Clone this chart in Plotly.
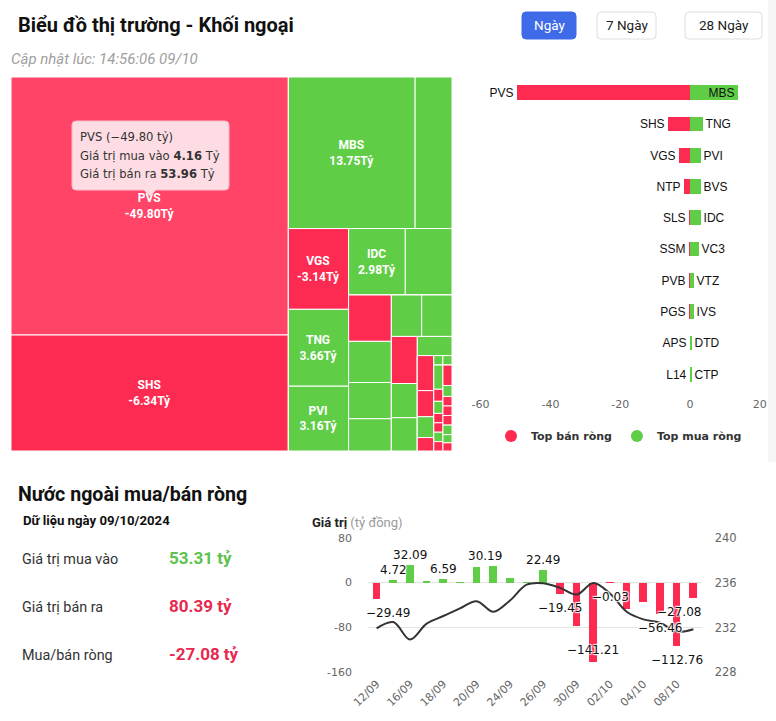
import plotly.graph_objects as go

W, H = 776, 721

# ---------------- DATA ----------------
# Treemap: sizes = total traded value (tỷ); hierarchy groups give the block layout
tm_ids = ["root", "L", "PVS", "SHS", "R", "R_top", "MBS", "g1", "R_bot", "colA", "VGS", "TNG", "PVI",
          "restA", "row1", "IDC", "g2", "rest2", "colB", "b1", "b2", "b3", "b4", "colC", "topC", "c1", "c2",
          "restC", "C1", "c3", "c4", "c5", "C2", "c6", "C2rest", "C2a", "c7", "c8", "c9", "c10",
          "C2b", "pair", "d1", "d2", "cols", "col1", "e1", "e2", "e3", "e4", "e5", "e6", "e7",
          "col2", "f1", "f2", "f3", "f4", "f5", "f6", "f7", "f8"]
tm_parents = ["", "root", "L", "L", "root", "R", "R_top", "R_top", "R", "R_bot", "colA", "colA", "colA",
              "R_bot", "restA", "row1", "row1", "restA", "rest2", "colB", "colB", "colB", "colB", "rest2", "colC", "topC", "topC",
              "colC", "restC", "C1", "C1", "C1", "restC", "C2", "C2", "C2rest", "C2a", "C2a", "C2a", "C2a",
              "C2rest", "C2b", "pair", "pair", "C2b", "cols", "col1", "col1", "col1", "col1", "col1", "col1", "col1",
              "cols", "col2", "col2", "col2", "col2", "col2", "col2", "col2", "col2"]
tm_values = [0, 0, 58.12, 26.13, 0, 0, 15.60, 4.54, 0, 0, 3.95, 3.76, 3.17,
             0, 0, 3.06, 2.52, 0, 0, 1.61, 1.43, 1.26, 1.12, 0, 0, 1.02, 1.02,
             0, 0, 0.99, 0.72, 0.70, 0, 0.54, 0, 0, 0.47, 0.35, 0.28, 0.18,
             0, 0, 0.07, 0.07, 0, 0, 0.18, 0.09, 0.09, 0.07, 0.07, 0.07, 0.07,
             0, 0.15, 0.08, 0.07, 0.07, 0.07, 0.07, 0.06, 0.06]
tm_side = ["g", "g", "s", "s", "g", "g", "b", "b", "g", "g", "s", "b", "b",
           "g", "g", "b", "b", "g", "g", "s", "b", "b", "b", "g", "g", "b", "b",
           "g", "g", "s", "b", "b", "g", "b", "g", "g", "s", "s", "b", "s",
           "g", "g", "b", "b", "g", "g", "b", "s", "b", "s", "s", "b", "s",
           "g", "s", "b", "s", "s", "s", "b", "b", "s"]
tm_label_names = ["PVS", "SHS", "MBS", "VGS", "TNG", "PVI", "IDC"]
tm_label_net = [-49.80, -6.34, 13.75, -3.14, 3.66, 3.16, 2.98]

# Top net sell / buy bar chart
sell_names = ["PVS", "SHS", "VGS", "NTP", "SLS", "SSM", "PVB", "PGS", "APS", "L14"]
sell_values = [-49.80, -6.34, -3.14, -1.75, -0.40, -0.25, -0.20, -0.15, -0.10, -0.08]
buy_names = ["MBS", "TNG", "PVI", "BVS", "IDC", "VC3", "VTZ", "IVS", "DTD", "CTP"]
buy_values = [13.75, 3.66, 3.16, 3.05, 2.98, 2.45, 0.95, 0.90, 0.55, 0.50]
bar_ticks = [-60, -40, -20, 0, 20]

# Net foreign flow history + index
dates = ["12/09", "13/09", "16/09", "17/09", "18/09", "19/09", "20/09", "23/09", "24/09", "25/09",
         "26/09", "27/09", "30/09", "01/10", "02/10", "03/10", "04/10", "07/10", "08/10", "09/10"]
net_values = [-29.49, 4.72, 32.09, 1.5, 6.59, 1.2, 28.4, 30.19, 8.2, 1.0,
              22.49, -19.45, -78.0, -141.21, -0.03, -48.0, -34.0, -56.46, -112.76, -27.08]
index_values = [231.94, 232.50, 230.93, 232.36, 233.04, 233.72, 234.37, 233.42, 234.43, 235.85,
                235.97, 235.56, 234.96, 236.00, 235.05, 233.42, 232.74, 232.44, 231.64, 231.85]
labeled_idx = [0, 1, 2, 4, 7, 10, 11, 13, 14, 17, 18, 19]
left_ticks = [-160, -80, 0, 80]
right_ticks = [228, 232, 236, 240]

summary_labels = ["Giá trị mua vào", "Giá trị bán ra", "Mua/bán ròng"]
summary_values = ["53.31 tỷ", "80.39 tỷ", "-27.08 tỷ"]

# ---------------- STYLE ----------------
RED = "#fd2a52"
RED_HOVER = "#ff4468"
GREEN = "#5fcd46"
CHART_FONT = "DejaVu Sans"


def X(px):
    return px / W


def Y(py):
    return 1 - py / H


fig = go.Figure()

# ---- Treemap ----
tm_colors = []
tm_text = []
for i, s in zip(tm_ids, tm_side):
    if s == "g":
        tm_colors.append("#ffffff")
    elif s == "s":
        tm_colors.append(RED_HOVER if i == "PVS" else RED)
    else:
        tm_colors.append(GREEN)
    if i in tm_label_names:
        v = tm_label_net[tm_label_names.index(i)]
        tm_text.append(f"<b>{i}<br>{v:.2f}Tỷ</b>")
    else:
        tm_text.append("")

fig.add_trace(go.Treemap(
    ids=tm_ids, labels=tm_ids, parents=tm_parents, values=tm_values,
    branchvalues="remainder", sort=False,
    text=tm_text, textinfo="text", textposition="middle center",
    textfont=dict(family="Roboto", size=12, color="white"),
    marker=dict(colors=tm_colors, line=dict(color="white", width=1),
                pad=dict(t=0, l=0, r=0, b=0), depthfade=False),
    tiling=dict(packing="slice-dice", pad=0),
    pathbar=dict(visible=False),
    hoverinfo="skip",
    domain=dict(x=[X(11), X(452)], y=[Y(451), Y(77)]),
))

# ---- Top sell / buy bars ----
rows = list(range(len(sell_names)))
fig.add_trace(go.Bar(
    y=rows, x=sell_values, orientation="h", xaxis="x2", yaxis="y2",
    marker=dict(color=RED, line=dict(width=0)), width=0.47,
    text=sell_names, textposition="outside", constraintext="none", cliponaxis=False,
    textfont=dict(family="Liberation Sans", size=12, color="#111"),
    showlegend=False, hoverinfo="skip",
))
fig.add_trace(go.Bar(
    y=rows, x=buy_values, orientation="h", xaxis="x2", yaxis="y2",
    marker=dict(color=GREEN, line=dict(width=0)), width=0.47,
    text=buy_names, textposition=["inside"] + ["outside"] * (len(buy_names) - 1),
    insidetextanchor="end", constraintext="none", cliponaxis=False,
    textfont=dict(family="Liberation Sans", size=12, color="#111"),
    insidetextfont=dict(family="Liberation Sans", size=12, color="#111"),
    outsidetextfont=dict(family="Liberation Sans", size=12, color="#111"),
    showlegend=False, hoverinfo="skip",
))
for name, col in [("Top bán ròng", RED), ("Top mua ròng", GREEN)]:
    fig.add_trace(go.Scatter(x=[None], y=[None], xaxis="x2", yaxis="y2", mode="markers",
                             marker=dict(symbol="circle", size=13, color=col),
                             name=name, showlegend=True))

# ---- Net flow history ----
fig.add_trace(go.Bar(
    x=dates, y=net_values, xaxis="x", yaxis="y",
    marker=dict(color=[GREEN if v >= 0 else RED for v in net_values], line=dict(width=0)),
    width=0.46, showlegend=False, hoverinfo="skip",
))
fig.add_trace(go.Scatter(
    x=dates, y=index_values, xaxis="x", yaxis="y3", mode="lines",
    line=dict(color="#333333", width=2, shape="spline", smoothing=1.0),
    showlegend=False, hoverinfo="skip",
))

annotations = []
# value labels on the history bars
lbl_style = {0: dict(xshift=11), 7: dict(xshift=-8), 19: dict(xshift=-14), 13: dict(inside=True)}
for i in labeled_idx:
    v = net_values[i]
    st = lbl_style.get(i, {})
    txt = f"{v:.2f}".replace("-", "−")
    if st.get("inside"):
        ya, ys = "bottom", 3
    elif v >= 0:
        ya, ys = "bottom", 1
    else:
        ya, ys = "top", -5
    annotations.append(dict(
        x=dates[i], y=v, xref="x", yref="y", text=txt, showarrow=False,
        xanchor="center", yanchor=ya, yshift=ys, xshift=st.get("xshift", 0),
        font=dict(family=CHART_FONT, size=12, color="#111",
                  shadow="1px 1px 1px #fff, -1px -1px 1px #fff, 1px -1px 1px #fff, -1px 1px 1px #fff"),
    ))

# left value-axis labels, placed on the axis scale (yref='y')
for t in left_ticks:
    annotations.append(dict(x=X(354), y=t, xref="paper", yref="y", text=str(t), showarrow=False,
                            xanchor="right", yanchor="middle",
                            font=dict(family=CHART_FONT, size=11, color="#666")))


def ann(xp, yp, text, size, color, family="Roboto", xanchor="left", yanchor="middle"):
    annotations.append(dict(x=X(xp), y=Y(yp), xref="paper", yref="paper", text=text,
                            showarrow=False, xanchor=xanchor, yanchor=yanchor,
                            font=dict(family=family, size=size, color=color)))


# header
ann(16, 25, "<b>Biểu đồ thị trường - Khối ngoại</b>", 20, "#111")
ann(9, 59, "<i>Cập nhật lúc: 14:56:06 09/10</i>", 15, "#a0a0a0")

shapes = [dict(type="rect", xref="paper", yref="paper", x0=X(768), x1=1, y0=Y(462), y1=1,
               fillcolor="#f5f5f5", line=dict(width=0), layer="below")]


def rrect(x0, y0, x1, y1, r, fill, line, lw=1, notch=None):
    p = f"M {X(x0 + r)},{Y(y0)} L {X(x1 - r)},{Y(y0)} Q {X(x1)},{Y(y0)} {X(x1)},{Y(y0 + r)} "
    p += f"L {X(x1)},{Y(y1 - r)} Q {X(x1)},{Y(y1)} {X(x1 - r)},{Y(y1)} "
    if notch:
        cx, d = notch
        p += f"L {X(cx + d)},{Y(y1)} L {X(cx)},{Y(y1 + d)} L {X(cx - d)},{Y(y1)} "
    p += f"L {X(x0 + r)},{Y(y1)} Q {X(x0)},{Y(y1)} {X(x0)},{Y(y1 - r)} "
    p += f"L {X(x0)},{Y(y0 + r)} Q {X(x0)},{Y(y0)} {X(x0 + r)},{Y(y0)} Z"
    shapes.append(dict(type="path", path=p, xref="paper", yref="paper",
                       fillcolor=fill, line=dict(color=line, width=lw), layer="above"))


# buttons
buttons = [("Ngày", 522, 576, True), ("7 Ngày", 597, 656, False), ("28 Ngày", 685, 762, False)]
for label, bx0, bx1, active in buttons:
    rrect(bx0, 12, bx1, 39, 4, "#3f6be8" if active else "#ffffff",
          "#3f6be8" if active else "#dedede")
    ann((bx0 + bx1) / 2, 25.5, label, 13.5, "#ffffff" if active else "#222", xanchor="center")

# tooltip on treemap
rrect(72, 121, 229, 190, 4, "rgba(253,226,231,0.97)", "#f2bcc6", 1, notch=(150, 6))
ann(78, 137, "PVS (−49.80 tỷ)", 11.6, "#333", family=CHART_FONT)
ann(78, 155.5, "Giá trị mua vào <b>4.16</b> Tỷ", 11.6, "#333", family=CHART_FONT)
ann(78, 173.5, "Giá trị bán ra <b>53.96</b> Tỷ", 11.6, "#333", family=CHART_FONT)

# lower-left summary
ann(16, 494, "<b>Nước ngoài mua/bán ròng</b>", 19.6, "#111")
ann(21, 520, "<b>Dữ liệu ngày 09/10/2024</b>", 13.2, "#111")
sum_y = [559, 607, 655]
sum_colors = ["#5dc24e", "#e8294f", "#e8294f"]
for lab, val, yy, cc in zip(summary_labels, summary_values, sum_y, sum_colors):
    ann(20, yy, lab, 14.4, "#333")
    ann(167, yy - 1, f"<b>{val}</b>", 17, cc)

# chart title of the history chart
ann(310, 522, "<b>Giá trị</b> <span style='color:#9a9a9a'>(tỷ đồng)</span>", 13, "#222")

fig.update_layout(
    width=W, height=H, margin=dict(l=0, r=0, t=0, b=0, autoexpand=False),
    paper_bgcolor="white", plot_bgcolor="white",
    barmode="overlay", bargap=0,
    annotations=annotations, shapes=shapes,
    legend=dict(orientation="h", x=X(491), y=Y(436), xanchor="left", yanchor="middle",
                font=dict(family=CHART_FONT, size=11, color="#333", weight="bold"),
                bgcolor="rgba(0,0,0,0)", itemsizing="constant", tracegroupgap=0),
    # history chart
    xaxis=dict(domain=[X(368.3), X(701.7)], anchor="y", type="category",
               categoryorder="array", categoryarray=dates, range=[-0.5, len(dates) - 0.5],
               tickmode="array", tickvals=dates[::2], ticktext=dates[::2], tickangle=-45,
               tickfont=dict(family=CHART_FONT, size=11, color="#666"),
               showgrid=False, zeroline=False, showline=False, ticks="", ticklabelstandoff=2,
               automargin=False),
    yaxis=dict(domain=[Y(672.3), Y(538.3)], anchor="x", range=[-160, 80],
               tickmode="array", tickvals=left_ticks, showticklabels=False,
               showgrid=True, gridcolor="#e3e3e3", gridwidth=1, zeroline=False, ticks="",
               automargin=False),
    yaxis3=dict(overlaying="y", side="right", anchor="x", range=[228, 240],
                tickmode="array", tickvals=right_ticks, ticktext=[str(t) for t in right_ticks],
                tickfont=dict(family=CHART_FONT, size=11.5, color="#666"),
                showgrid=False, zeroline=False, ticks="", ticklabelstandoff=12, automargin=False),
    # top sell/buy chart
    xaxis2=dict(domain=[X(480.6), X(759.8)], anchor="y2", range=[-60, 20],
                tickmode="array", tickvals=bar_ticks, ticktext=[str(t) for t in bar_ticks],
                tickfont=dict(family=CHART_FONT, size=11, color="#666"),
                showgrid=False, zeroline=False, showline=False, ticks="", ticklabelstandoff=6,
                automargin=False),
    yaxis2=dict(domain=[Y(390), Y(77.1)], anchor="x2", range=[len(rows) - 0.5, -0.5],
                visible=False, automargin=False),
)

fig.write_html("out.html", config={"displayModeBar": False},
               post_script="document.body.style.margin='0';document.body.style.overflow='hidden';")
